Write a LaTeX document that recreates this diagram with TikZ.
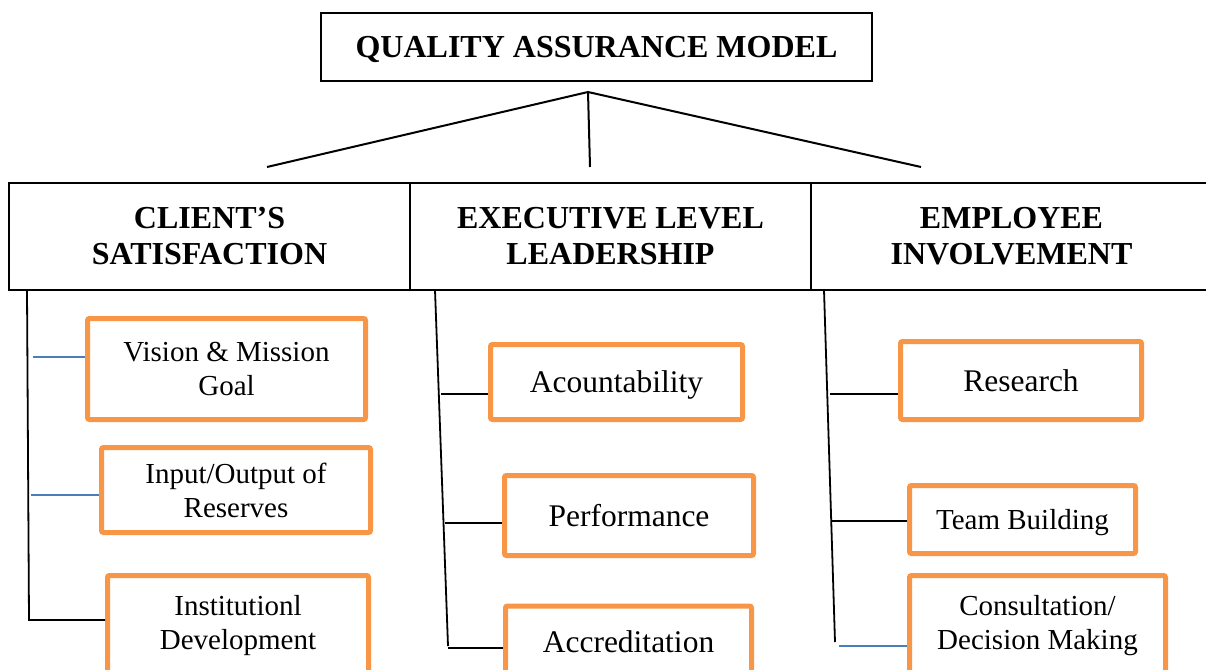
\documentclass[tikz,border=0pt]{standalone}
\usepackage{fontspec}
\setmainfont{Liberation Serif}
\usepackage{xcolor}
\usepackage{tikz}
\definecolor{boxorange}{HTML}{F79646}
\definecolor{linkblue}{HTML}{4A7EBB}

\begin{document}
\begin{tikzpicture}[x=1pt,y=-1pt,
		headcell/.style={draw,line width=2pt,minimum width=401pt,minimum height=107pt,inner sep=0pt,align=center,font=\fontsize{32}{36}\selectfont\bfseries},
		itembox/.style={draw=boxorange,line width=5pt,rounded corners=2pt,inner sep=0pt,align=center,font=\fontsize{29}{34}\selectfont},
		bigtext/.style={font=\fontsize{31.5}{36}\selectfont,text depth=0pt},
		link/.style={line width=1.8pt},
		bluelink/.style={line width=1.6pt,draw=linkblue}]
		\useasboundingbox (0,0) rectangle (1206,669);
		\clip (0,0) rectangle (1206,669);
		% title and the three pillars
		\node[draw,line width=2pt,minimum width=551pt,minimum height=68pt,text depth=0pt,font=\fontsize{32}{36}\selectfont\bfseries] (qam) at (596.5,47) {QUALITY ASSURANCE MODEL};
		\coordinate (apex) at (588,92);
		\coordinate (tl) at (267,167);
		\coordinate (tm) at (590,167);
		\coordinate (tr) at (921,167);
		\draw [line width=2pt] (tl) -- (apex) -- (tr) (apex) -- (tm);
		\node[headcell] (cs) at (209.5,236.5) {CLIENT'S\\SATISFACTION};
		\node[headcell] (el) at (610.5,236.5) {EXECUTIVE LEVEL\\LEADERSHIP};
		\node[headcell] (ei) at (1011.5,236.5) {EMPLOYEE\\INVOLVEMENT};
		% client's satisfaction
		\node[itembox,minimum width=278pt,minimum height=101pt] (vis) at (226.5,369) {Vision \& Mission\\Goal};
		\node[itembox,minimum width=269pt,minimum height=85pt] (inp) at (236,490) {Input/Output of\\Reserves};
		\node[itembox,minimum width=261pt,minimum height=101pt] (ins) at (238,626) {Institutionl\\Development};
		\coordinate (ltop) at (27,290);
		\coordinate (lbot) at (29,620);
		\coordinate (lb1) at (33,357);
		\coordinate (lb2) at (31,495);
		\draw [link] (ltop) -- (lbot) -- (lbot -| ins.west);
		\draw [bluelink] (lb1) -- (lb1 -| vis.west);
		\draw [bluelink] (lb2) -- (lb2 -| inp.west);
		% executive level leadership
		\node[itembox,bigtext,minimum width=252pt,minimum height=75pt] (acc) at (616.5,382) {Acountability};
		\node[itembox,bigtext,minimum width=249pt,minimum height=80pt] (perf) at (629,515.5) {Performance};
		\node[itembox,bigtext,minimum width=246pt,minimum height=72pt] (accr) at (628.5,642) {Accreditation};
		\coordinate (mtop) at (435,290);
		\coordinate (mbot) at (448,646);
		\coordinate (mb1) at (441,394);
		\coordinate (mb2) at (445,523);
		\coordinate (mb3) at (448,648);
		\draw [link] (mtop) -- (mbot);
		\draw [link] (mb1) -- (mb1 -| acc.west);
		\draw [link] (mb2) -- (mb2 -| perf.west);
		\draw [link] (mb3) -- (mb3 -| accr.west);
		% employee involvement
		\node[itembox,bigtext,minimum width=241pt,minimum height=78pt] (res) at (1021,380.5) {Research};
		\node[itembox,text depth=0pt,minimum width=226pt,minimum height=68pt] (team) at (1022.5,519.5) {Team Building};
		\node[itembox,minimum width=256pt,minimum height=101pt] (cons) at (1037.5,626) {Consultation/\\Decision Making};
		\coordinate (rtop) at (824,290);
		\coordinate (rbot) at (835,642);
		\coordinate (rb1) at (830,394);
		\coordinate (rb2) at (832,521);
		\coordinate (rb3) at (839,646);
		\draw [link] (rtop) -- (rbot);
		\draw [link] (rb1) -- (rb1 -| res.west);
		\draw [link] (rb2) -- (rb2 -| team.west);
		\draw [bluelink] (rb3) -- (rb3 -| cons.west);
	\end{tikzpicture}
\end{document}
